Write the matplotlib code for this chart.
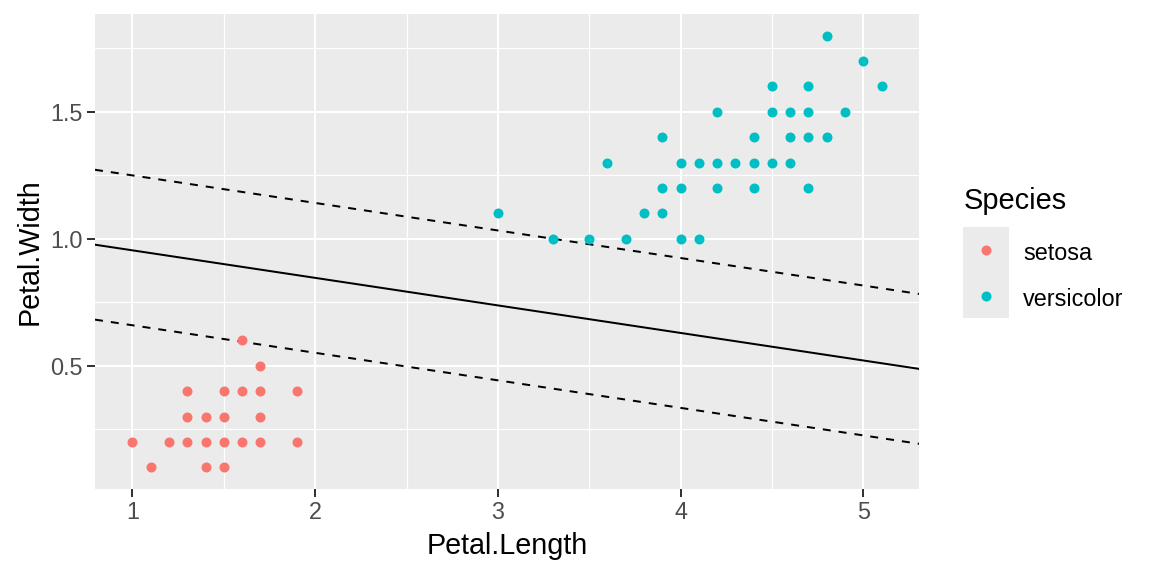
import matplotlib
matplotlib.use("Agg")
import matplotlib.pyplot as plt
from matplotlib.lines import Line2D
from matplotlib.patches import Rectangle
import numpy as np

# ---- data ----
species = ["setosa", "versicolor"]
colors = ["#F8766D", "#00BFC4"]

setosa_length = [1.0, 1.2, 1.3, 1.4, 1.5, 1.6, 1.7, 1.9,
                 1.1, 1.4, 1.5,
                 1.3, 1.4, 1.5, 1.7,
                 1.3, 1.5, 1.6, 1.7, 1.9,
                 1.7, 1.6]
setosa_width = [0.2, 0.2, 0.2, 0.2, 0.2, 0.2, 0.2, 0.2,
                0.1, 0.1, 0.1,
                0.3, 0.3, 0.3, 0.3,
                0.4, 0.4, 0.4, 0.4, 0.4,
                0.5, 0.6]

versicolor_length = [3.0, 3.3, 3.5, 3.6, 3.7, 3.8, 3.9, 3.9, 3.9, 4.0, 4.0, 4.0,
                     4.1, 4.1, 4.2, 4.2, 4.2, 4.3, 4.4, 4.4, 4.4, 4.5, 4.5, 4.5,
                     4.6, 4.6, 4.6, 4.7, 4.7, 4.7, 4.7, 4.8, 4.8, 4.9, 5.0, 5.1]
versicolor_width = [1.1, 1.0, 1.0, 1.3, 1.0, 1.1, 1.1, 1.2, 1.4, 1.0, 1.2, 1.3,
                    1.0, 1.3, 1.2, 1.3, 1.5, 1.3, 1.2, 1.3, 1.4, 1.3, 1.5, 1.6,
                    1.3, 1.4, 1.5, 1.2, 1.4, 1.5, 1.6, 1.4, 1.8, 1.5, 1.7, 1.6]

# decision boundary and margins (intercept, slope)
line_intercepts = [1.063, 1.358, 0.768]
line_slope = -0.1084
line_styles = ["solid", "dashed", "dashed"]

x_ticks = [1, 2, 3, 4, 5]
y_ticks = [0.5, 1.0, 1.5]
y_tick_labels = ["0.5", "1.0", "1.5"]

# ---- figure ----
W, H = 1152, 576
fig = plt.figure(figsize=(8, 4), dpi=144)
plt.rcParams["font.family"] = ["Liberation Sans", "DejaVu Sans"]

left, right, top, bottom = 95, 919, 14, 489
ax = fig.add_axes([left / W, 1 - bottom / H, (right - left) / W, (bottom - top) / H])
ax.set_facecolor("#EBEBEB")
for s in ax.spines.values():
    s.set_visible(False)

xmin, xmax = 0.795, 5.305
ymin, ymax = 0.015, 1.885
ax.set_xlim(xmin, xmax)
ax.set_ylim(ymin, ymax)

ax.set_xticks(x_ticks)
ax.set_xticklabels([str(t) for t in x_ticks])
ax.set_yticks(y_ticks)
ax.set_yticklabels(y_tick_labels)
ax.set_xticks([1.5, 2.5, 3.5, 4.5], minor=True)
ax.set_yticks([0.25, 0.75, 1.25, 1.75], minor=True)
ax.grid(which="major", color="white", linewidth=1.0)
ax.grid(which="minor", color="white", linewidth=0.6)
ax.set_axisbelow(True)
ax.tick_params(which="major", length=4.1, width=1.0, color="#333333",
               labelsize=11.7, labelcolor="#4D4D4D", pad=2.0)
ax.tick_params(which="minor", length=0)

# lines
xs = np.array([xmin, xmax])
for b, ls in zip(line_intercepts, line_styles):
    kw = dict(color="black", linewidth=1.0, zorder=2)
    if ls == "dashed":
        kw["linestyle"] = (0, (4, 4))
    ax.plot(xs, b + line_slope * xs, **kw)

# points
ax.scatter(setosa_length, setosa_width, s=25, color=colors[0], linewidths=0, zorder=3)
ax.scatter(versicolor_length, versicolor_width, s=25, color=colors[1], linewidths=0, zorder=3)

# axis titles
fig.text((left + right) / 2 / W, 1 - 554 / H, "Petal.Length", ha="center", va="baseline",
         fontsize=14.4, color="black")
fig.text(38 / W, 1 - 251.5 / H, "Petal.Width", rotation=90, rotation_mode="anchor",
         ha="center", va="baseline", fontsize=14.4, color="black")

# legend
fig.text(964 / W, 1 - 209 / H, "Species", ha="left", va="baseline", fontsize=14.5, color="black")
fig.add_artist(Rectangle((962.7 / W, 1 - 318.3 / H), (1009 - 962.7) / W, (318.3 - 226.7) / H,
                         transform=fig.transFigure, facecolor="#EBEBEB", edgecolor="none"))
key_y = [250, 296]
lab_base = [260, 306]
for sp, c, ky, lb in zip(species, colors, key_y, lab_base):
    fig.add_artist(Line2D([985.7 / W], [1 - ky / H], marker="o", markersize=5,
                          markerfacecolor=c, markeredgewidth=0, linestyle="none",
                          transform=fig.transFigure))
    fig.text(1023.3 / W, 1 - lb / H, sp, ha="left", va="baseline", fontsize=11.7, color="black")

fig.savefig("out.png", dpi=144, facecolor="white")
